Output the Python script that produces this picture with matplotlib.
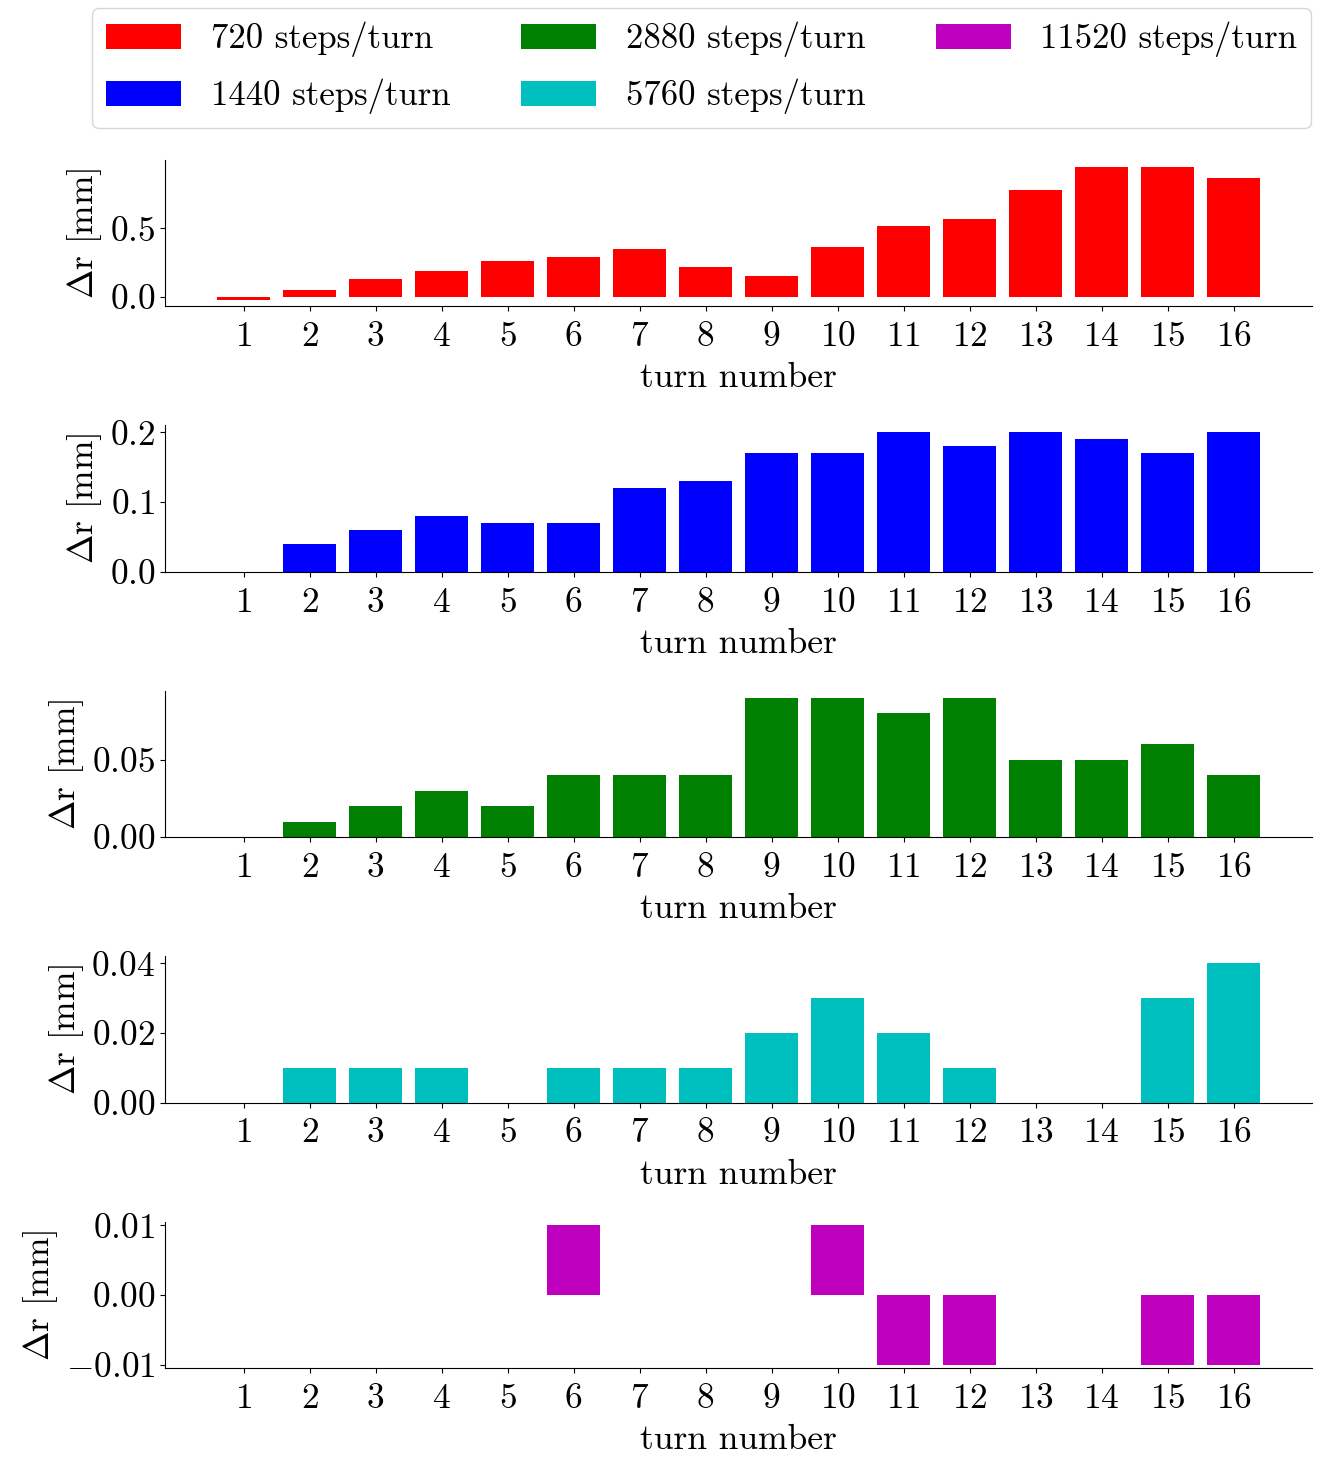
import matplotlib
matplotlib.use("Agg")
import matplotlib.pyplot as plt
import numpy as np

plt.rcParams['font.family'] = 'serif'
plt.rcParams['font.serif'] = ['cmr10']
plt.rcParams['mathtext.fontset'] = 'cm'
plt.rcParams['axes.formatter.use_mathtext'] = True
plt.rcParams['font.size'] = 25.5
plt.rcParams['xtick.major.pad'] = 7.5

turns = list(range(1, 17))
labels = ["720 steps/turn", "1440 steps/turn", "2880 steps/turn",
          "5760 steps/turn", "11520 steps/turn"]
colors = ['r', 'b', 'g', 'c', 'm']

dr_720 = [-0.02, 0.05, 0.13, 0.19, 0.26, 0.29, 0.35, 0.22, 0.15, 0.36, 0.52, 0.57, 0.78, 0.95, 0.95, 0.87]
dr_1440 = [0.0, 0.04, 0.06, 0.08, 0.07, 0.07, 0.12, 0.13, 0.17, 0.17, 0.20, 0.18, 0.20, 0.19, 0.17, 0.20]
dr_2880 = [0.0, 0.01, 0.02, 0.03, 0.02, 0.04, 0.04, 0.04, 0.09, 0.09, 0.08, 0.09, 0.05, 0.05, 0.06, 0.04]
dr_5760 = [0.0, 0.01, 0.01, 0.01, 0.0, 0.01, 0.01, 0.01, 0.02, 0.03, 0.02, 0.01, 0.0, 0.0, 0.03, 0.04]
dr_11520 = [0.0, 0.0, 0.0, 0.0, 0.0, 0.01, 0.0, 0.0, 0.0, 0.01, -0.01, -0.01, 0.0, 0.0, -0.01, -0.01]
series = [dr_720, dr_1440, dr_2880, dr_5760, dr_11520]

fig, axes = plt.subplots(5, 1, figsize=(13.35, 14.74), dpi=100)
fig.subplots_adjust(left=0.1236, right=0.9828, top=0.8915, bottom=0.0719, hspace=0.815)

handles = []
for ax, vals, c, lab in zip(axes, series, colors, labels):
    bars = ax.bar(turns, vals, color=c, label=lab)
    handles.append(bars)
    ax.set_xticks(turns)
    ax.set_xlabel("turn number", labelpad=7)
    ax.set_ylabel(r"$\Delta$r [mm]", labelpad=4)
    ax.spines['top'].set_visible(False)
    ax.spines['right'].set_visible(False)

axes[0].set_yticks([0.0, 0.5])
axes[1].set_yticks([0.0, 0.1, 0.2])
axes[2].set_yticks([0.0, 0.05])
axes[3].set_yticks([0.0, 0.02, 0.04])
axes[4].set_yticks([-0.01, 0.0, 0.01])
axes[4].set_ylim(-0.0105, 0.0105)

fig.legend(handles, labels, loc='upper center', bbox_to_anchor=(0.5258, 0.9946),
           borderaxespad=0, fontsize=25,
           ncol=3, handlelength=2.15, handleheight=0.75, labelspacing=0.62,
           handletextpad=0.85, columnspacing=2.05)

fig.savefig("out.png", dpi=100)
